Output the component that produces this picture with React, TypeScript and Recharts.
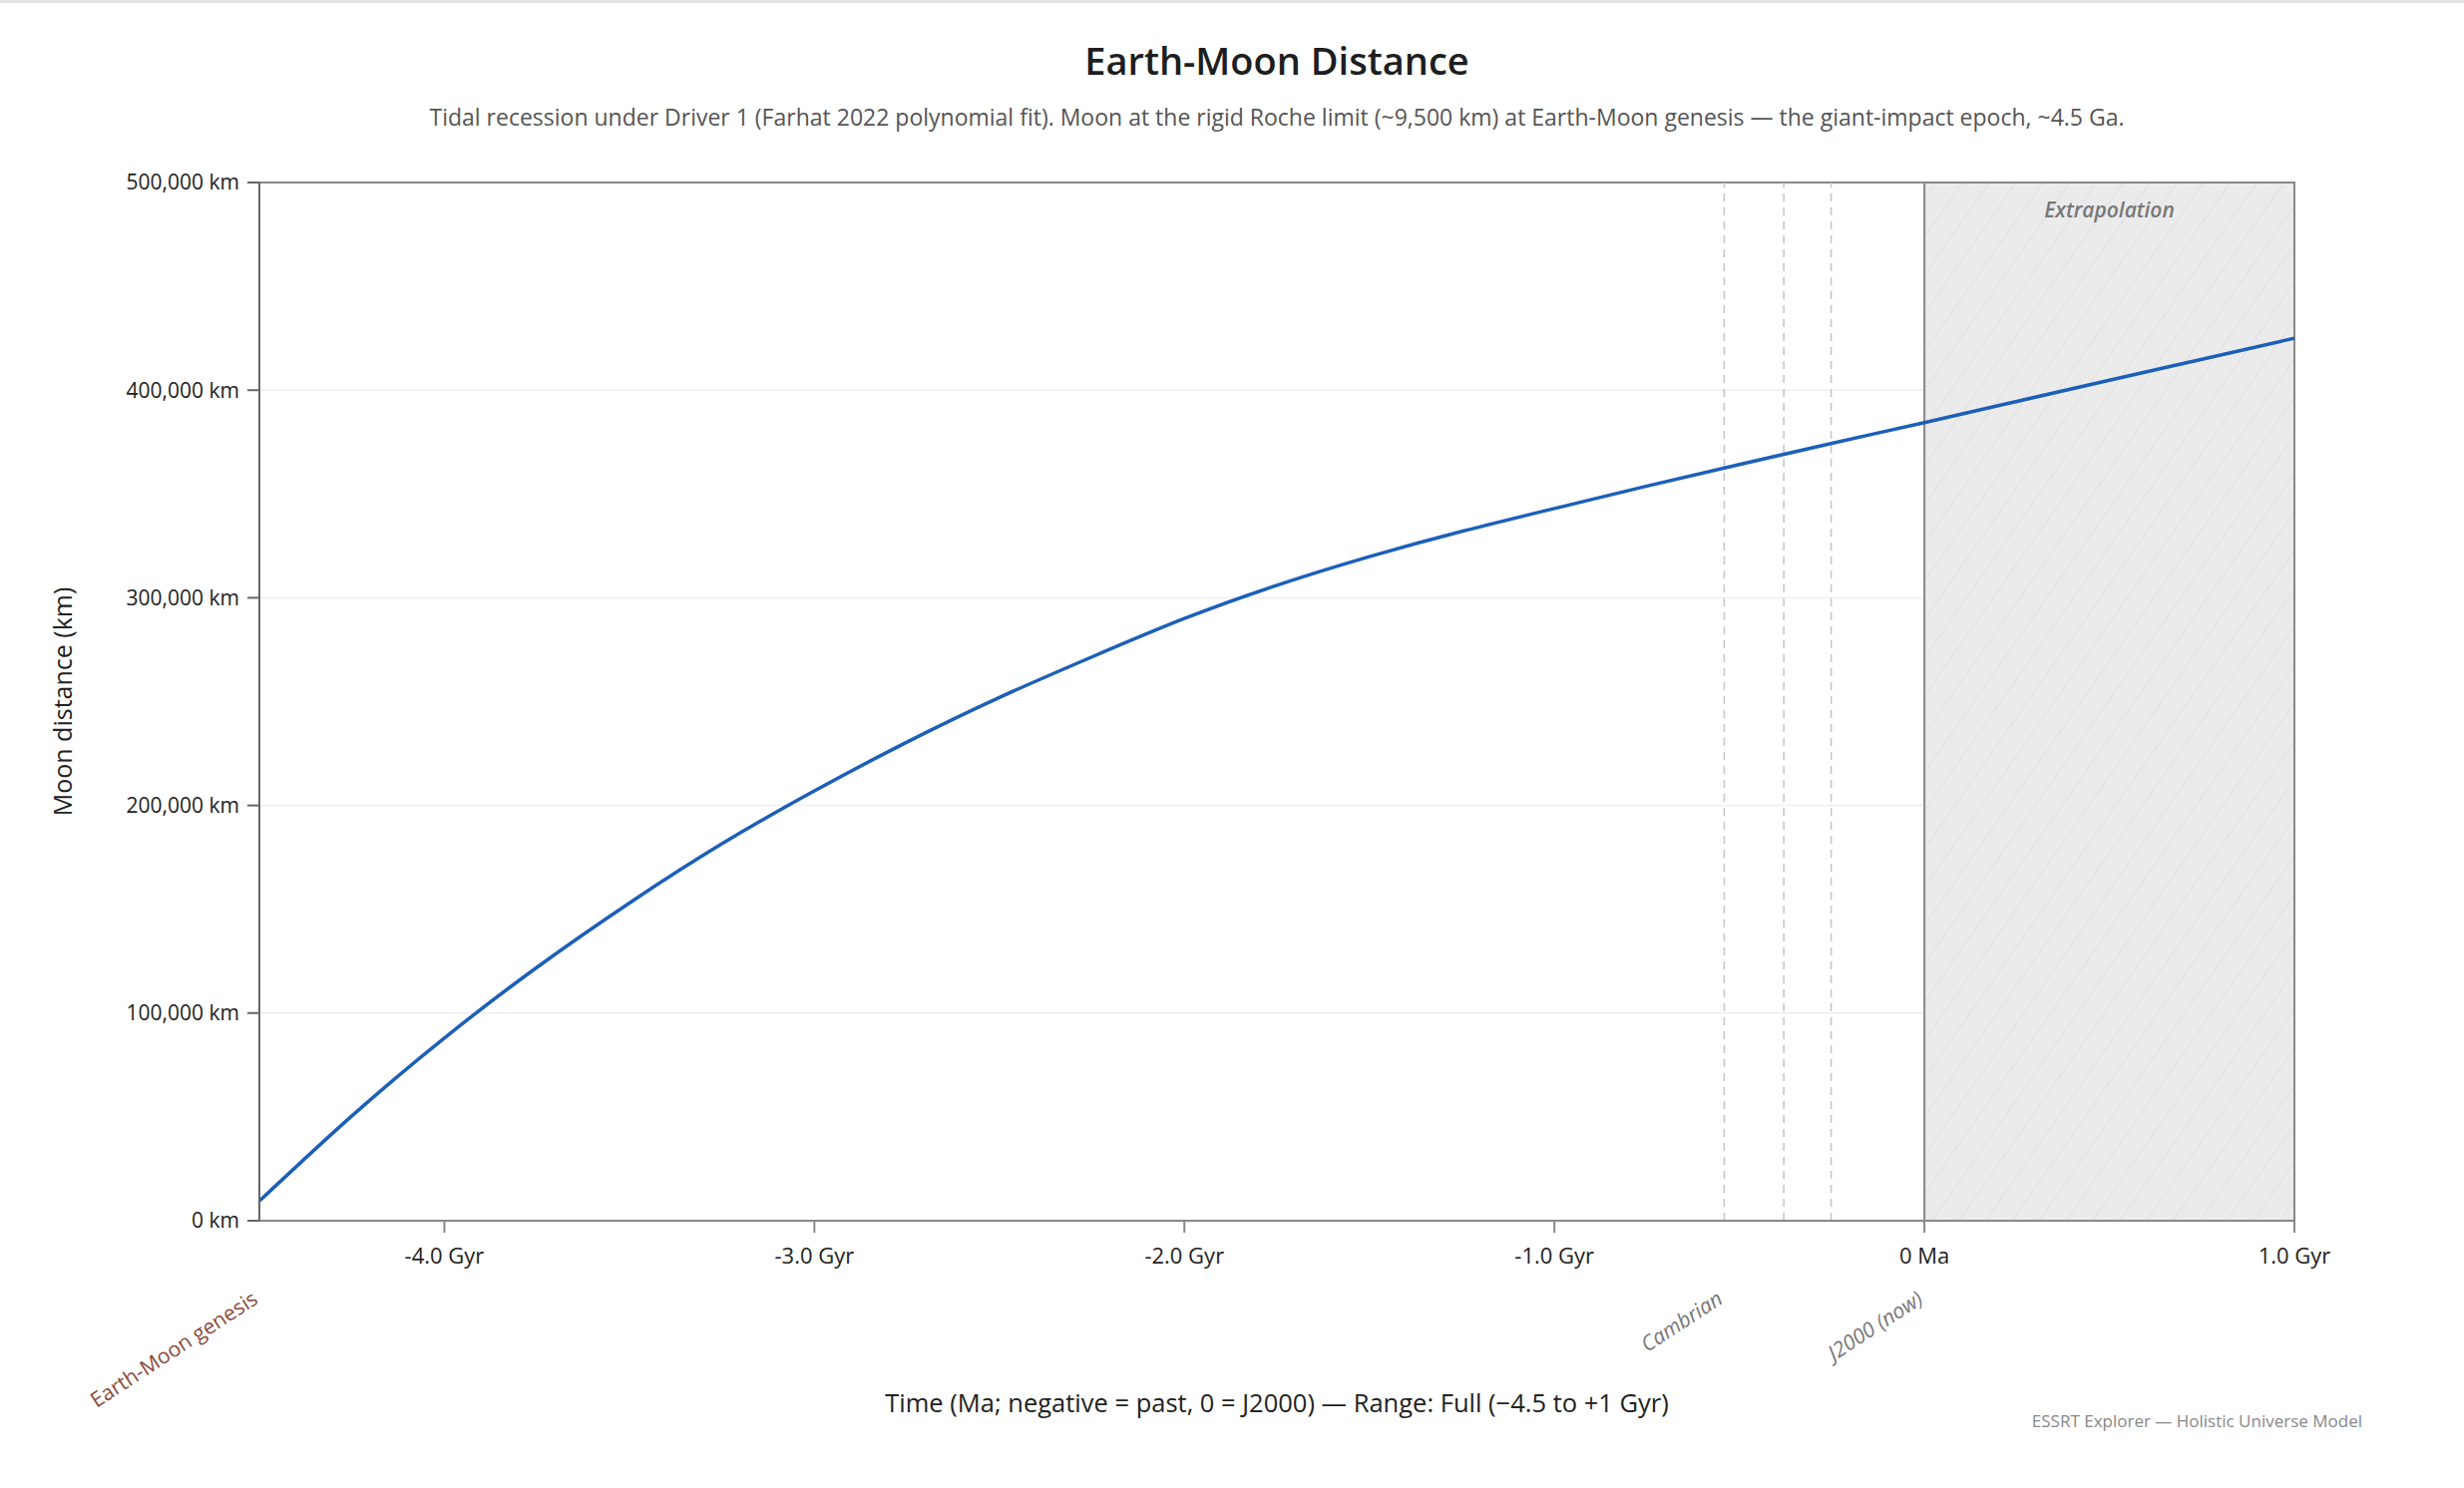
import React from "react";
import {
  CartesianGrid,
  Line,
  LineChart,
  ReferenceArea,
  ReferenceLine,
  XAxis,
  YAxis
} from "recharts";

// Time in Ma (negative = past), distance in km
const timeMa = [
  -4500, -4250, -4000, -3750, -3500, -3250, -3000, -2750, -2500, -2250, -2000, -1750,
  -1500, -1250, -1000, -750, -500, -250, 0, 250, 500, 750, 1000
];
const distanceKm = [
  9500, 50500, 88000, 122000, 153000, 181500, 207000, 230500, 252000, 271500, 290000, 306000,
  319800, 332000, 343000, 353800, 364200, 374400, 384400, 394600, 404800, 414900, 425000
];

const xTicks = [-4000, -3000, -2000, -1000, 0, 1000];
const yTicks = [0, 100000, 200000, 300000, 400000, 500000];

const genesisMa = -4500;
const markerMa = [-541, -380, -252];
const markerLabels = ["Cambrian", "", ""];
const nowMa = 0;
const extrapolationMa = [0, 1000];

const FONT = "'Open Sans', 'Noto Sans', sans-serif";
const W = 2470;
const H = 1492;

const data = timeMa.map((t, i) => ({ t, distance: distanceKm[i] }));

const fmtX = (v: number) => (v === 0 ? "0 Ma" : `${(v / 1000).toFixed(1)} Gyr`);
const fmtY = (v: number) => `${v.toLocaleString("en-US")} km`;

function slantedLabel(text: string, color: string, italic: boolean) {
  return (props: any) => {
    const vb = props.viewBox || {};
    const x = vb.x ?? 0;
    const y = (vb.y ?? 0) + (vb.height ?? 0) + 82;
    return (
      <text
        x={x}
        y={y}
        textAnchor="end"
        fill={color}
        fontSize={21}
        fontStyle={italic ? "italic" : "normal"}
        fontFamily={FONT}
        transform={`rotate(-33, ${x}, ${y})`}
      >
        {text}
      </text>
    );
  };
}

export default function App() {
  return (
    <div style={{ position: "absolute", left: 0, top: 0, width: W, height: H, background: "#fff", fontFamily: FONT }}>
      <div style={{ position: "absolute", left: 0, top: 0, width: W, height: 3, background: "#e3e3e3" }} />
      <LineChart width={W} height={H} data={data} margin={{ top: 183, right: 170, bottom: 0, left: 0 }}>
        <defs>
          <pattern id="extrapHatch" patternUnits="userSpaceOnUse" width="22" height="22" patternTransform="rotate(35)">
            <rect width="22" height="22" fill="#ebebeb" />
            <line x1="0" y1="0" x2="0" y2="22" stroke="#dddddd" strokeWidth="1.5" />
          </pattern>
        </defs>
        <CartesianGrid vertical={false} stroke="#eeeeee" strokeWidth={1.5} />
        <ReferenceArea
          x1={extrapolationMa[0]}
          x2={extrapolationMa[1]}
          fill="url(#extrapHatch)"
          fillOpacity={1}
          label={{
            value: "Extrapolation",
            position: "insideTop",
            offset: 20,
            fill: "#777",
            fontSize: 21,
            fontStyle: "italic",
            fontWeight: 600,
            fontFamily: FONT
          }}
        />
        <XAxis
          dataKey="t"
          type="number"
          domain={[-4500, 1000]}
          ticks={xTicks}
          tickFormatter={fmtX}
          height={268}
          tickSize={12}
          tickMargin={15}
          stroke="#888"
          strokeWidth={2}
          tick={{ fill: "#222", fontSize: 22, fontFamily: FONT }}
          label={{
            value: "Time (Ma; negative = past, 0 = J2000) \u2014 Range: Full (\u22124.5 to +1 Gyr)",
            position: "insideBottom",
            offset: 76,
            fill: "#222",
            fontSize: 25.5,
            fontFamily: FONT
          }}
        />
        <YAxis
          type="number"
          domain={[0, 500000]}
          ticks={yTicks}
          tickFormatter={fmtY}
          width={260}
          tickSize={12}
          tickMargin={8}
          stroke="#666"
          strokeWidth={2}
          tick={{ fill: "#222", fontSize: 21, fontFamily: FONT }}
          label={{
            value: "Moon distance (km)",
            angle: -90,
            position: "insideLeft",
            offset: 63,
            fill: "#222",
            fontSize: 25,
            fontFamily: FONT,
            style: { textAnchor: "middle" }
          }}
        />
        <ReferenceArea
          x1={-4500}
          x2={1000}
          y1={0}
          y2={500000}
          fill="none"
          stroke="#888"
          strokeWidth={2}
        />
        {markerMa.map((m, i) => (
          <ReferenceLine
            key={m}
            x={m}
            stroke="#c4c4c4"
            strokeWidth={1.5}
            strokeDasharray="8 6"
            label={markerLabels[i] ? slantedLabel(markerLabels[i], "#777", true) : undefined}
          />
        ))}
        <ReferenceLine x={nowMa} stroke="#888" strokeWidth={2} label={slantedLabel("J2000 (now)", "#777", true)} />
        <ReferenceLine
          x={genesisMa}
          stroke="#9c4f3c"
          strokeWidth={2}
          strokeDasharray="8 4"
          label={slantedLabel("Earth-Moon genesis", "#8a4a3b", false)}
        />
        <Line
          type="natural"
          dataKey="distance"
          stroke="#1c5fb8"
          strokeWidth={3.5}
          dot={false}
          activeDot={false}
          isAnimationActive={false}
        />
      </LineChart>
      <svg width={W} height={H} style={{ position: "absolute", left: 0, top: 0, pointerEvents: "none" }}>
        <text x={1280} y={75} textAnchor="middle" fontSize={38} fontWeight={600} fill="#1e1e1e" fontFamily={FONT}>
          Earth-Moon Distance
        </text>
        <text x={1280} y={126} textAnchor="middle" fontSize={23} fill="#555" fontFamily={FONT}>
          Tidal recession under Driver 1 (Farhat 2022 polynomial fit). Moon at the rigid Roche limit (~9,500 km) at
          Earth-Moon genesis — the giant-impact epoch, ~4.5 Ga.
        </text>
        <text x={2368} y={1431} textAnchor="end" fontSize={17} fill="#888" fontFamily={FONT}>
          ESSRT Explorer — Holistic Universe Model
        </text>
      </svg>
    </div>
  );
}
